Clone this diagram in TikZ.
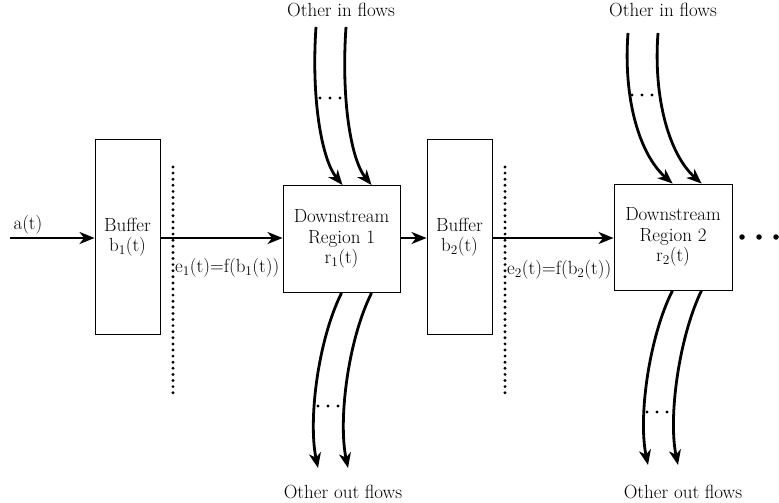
\documentclass[tikz,border=0pt]{standalone}
\usetikzlibrary{arrows.meta,calc}
\begin{document}
\begin{tikzpicture}[x=1pt,y=-1pt,
  every node/.style={font=\rmfamily\fontsize{19}{20.5}\selectfont, inner sep=0pt},
  box/.style={draw, line width=0.9pt, align=center},
  flow/.style={line width=2.8pt, -{Stealth[length=15pt,width=12pt,inset=4.5pt]}},
  sep/.style={line width=3.2pt, line cap=round, dash pattern=on 0pt off 6.1pt},
  dotc/.style={fill, circle, minimum size=3.2pt}
]
\useasboundingbox (0,0) rectangle (779,503);
% boxes
\node[box, minimum width=65pt, minimum height=195pt] (b1) at (127.5,237) {Buffer\\b\textsubscript{1}(t)};
\node[box, minimum width=117pt, minimum height=107pt] (r1) at (341.5,239) {Downstream\\Region 1\\r\textsubscript{1}(t)};
\node[box, minimum width=65pt, minimum height=195pt] (b2) at (459.5,237) {Buffer\\b\textsubscript{2}(t)};
\node[box, minimum width=118pt, minimum height=106pt] (r2) at (673,237) {Downstream\\Region 2\\r\textsubscript{2}(t)};
% separators
\coordinate (s1t) at (173,167); \coordinate (s1b) at (173,398);
\coordinate (s2t) at (505,167); \coordinate (s2b) at (505,398);
\draw[sep] (s1t) -- (s1b);
\draw[sep] (s2t) -- (s2b);
% main flow
\coordinate (ain) at (10,238);
\draw[flow] (ain) -- (b1.west |- ain);
\draw[flow] (b1.east |- ain) -- (r1.west |- ain);
\draw[flow] (r1.east |- ain) -- (b2.west |- ain);
\draw[flow] (b2.east |- ain) -- (r2.west |- ain);
\node (la) at (28,225) {a(t)};
\node[anchor=west] (le1) at (175,268) {e\textsubscript{1}(t)=f(b\textsubscript{1}(t))};
\node[anchor=west] (le2) at (507,270) {e\textsubscript{2}(t)=f(b\textsubscript{2}(t))};
% region 1 in flows
\node (in1) at (341,10) {Other in flows};
\coordinate (i1a) at (316,27); \coordinate (i1b) at (346,27);
\draw[flow] (i1a) .. controls (311,100) and (322,160) .. ($(r1.north west)+(60,0)$);
\draw[flow] (i1b) .. controls (341,100) and (351,160) .. ($(r1.north west)+(89,0)$);
\foreach \x in {320,330,340} \node[dotc] at (\x,98) {};
% region 1 out flows
\node (out1) at (343,492) {Other out flows};
\coordinate (o1a) at (318,468); \coordinate (o1b) at (348,468);
\draw[flow] ($(r1.south west)+(59,0)$) .. controls (318,340) and (308,420) .. (o1a);
\draw[flow] ($(r1.south west)+(89,0)$) .. controls (348,340) and (338,420) .. (o1b);
\foreach \x in {318,328,338} \node[dotc] at (\x,406) {};
% region 2 in flows
\node (in2) at (663,10) {Other in flows};
\coordinate (i2a) at (628,33); \coordinate (i2b) at (658,33);
\draw[flow] (i2a) .. controls (623,100) and (640,155) .. ($(r2.north west)+(59,0)$);
\draw[flow] (i2b) .. controls (653,100) and (670,155) .. ($(r2.north west)+(88,0)$);
\foreach \x in {632,642,652} \node[dotc] at (\x,95) {};
% region 2 out flows
\node (out2) at (683,492) {Other out flows};
\coordinate (o2a) at (648,465); \coordinate (o2b) at (678,465);
\draw[flow] ($(r2.south west)+(59,0)$) .. controls (649,337) and (638,417) .. (o2a);
\draw[flow] ($(r2.south west)+(88,0)$) .. controls (679,337) and (668,417) .. (o2b);
\foreach \x in {647,657,667} \node[dotc] at (\x,412) {};
% trailing ellipsis
\foreach \x in {742,759,776} \node[fill, circle, minimum size=5.5pt] at (\x,237) {};
\end{tikzpicture}
\end{document}
